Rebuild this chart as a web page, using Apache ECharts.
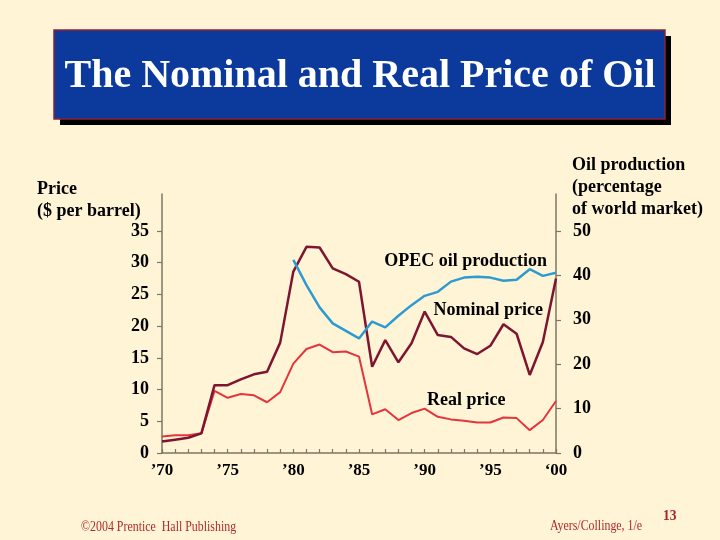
<!DOCTYPE html>
<html>
<head>
<meta charset="utf-8">
<script src="https://cdn.jsdelivr.net/npm/echarts@6/dist/echarts.min.js"></script>
<style>
  html, body { margin: 0; padding: 0; background: #FFF5D6; }
  #chart { width: 720px; height: 540px; }
</style>
</head>
<body>
<div id="chart"></div>
<script>
// data
var years = [1970, 1971, 1972, 1973, 1974, 1975, 1976, 1977, 1978, 1979,
             1980, 1981, 1982, 1983, 1984, 1985, 1986, 1987, 1988, 1989,
             1990, 1991, 1992, 1993, 1994, 1995, 1996, 1997, 1998, 1999, 2000];
var nominalPrice = [1.8, 2.1, 2.4, 3.1, 10.7, 10.7, 11.6, 12.4, 12.8, 17.4,
                    28.6, 32.5, 32.4, 29.1, 28.2, 27.0, 13.6, 17.8, 14.3, 17.3,
                    22.3, 18.6, 18.3, 16.5, 15.6, 16.9, 20.3, 18.8, 12.3, 17.5, 27.5];
var realPrice = [2.6, 2.8, 2.8, 3.1, 9.8, 8.7, 9.3, 9.1, 8.0, 9.6,
                 14.1, 16.4, 17.1, 15.9, 16.0, 15.2, 6.1, 6.9, 5.2, 6.3,
                 7.0, 5.7, 5.3, 5.1, 4.8, 4.8, 5.6, 5.5, 3.6, 5.2, 8.2];
var opecShare = [null, null, null, null, null, null, null, null, null, null,
                 43.5, 37.8, 32.8, 29.2, 27.5, 25.8, 29.6, 28.3, 30.9, 33.3,
                 35.4, 36.3, 38.6, 39.5, 39.7, 39.5, 38.8, 39.0, 41.4, 39.9, 40.6];
var yearTicks = [1970, 1975, 1980, 1985, 1990, 1995, 2000];
var priceTicks = [0, 5, 10, 15, 20, 25, 30, 35];
var shareTicks = [0, 10, 20, 30, 40, 50];

function pairs(vals) {
  return years.map(function (y, i) { return [y, vals[i]]; });
}

var serif = '"Liberation Serif", "DejaVu Serif", serif';
var axisColor = '#7d7666';

var chart = echarts.init(document.getElementById('chart'));
var option = {
  backgroundColor: '#FFF5D6',
  animation: false,
  grid: { left: 162, right: 164, top: 194, bottom: 87 },
  xAxis: {
    type: 'value',
    min: 1970,
    max: 2000,
    interval: 1,
    axisLine: { show: true, onZero: false, lineStyle: { color: axisColor, width: 1.5 } },
    axisTick: { show: true, inside: true, length: 4, lineStyle: { color: axisColor, width: 1.2 } },
    splitLine: { show: false },
    axisLabel: {
      customValues: yearTicks,
      margin: 9,
      color: '#000',
      fontFamily: serif,
      fontWeight: 'bold',
      fontSize: 17,
      formatter: function (v) {
        var s = String(v).slice(2);
        return (v === 2000 ? '\u2018' : '\u2019') + s;
      }
    }
  },
  yAxis: [
    {
      type: 'value',
      position: 'left',
      min: 0,
      max: 35 * 7 / 6,
      axisLine: { show: true, lineStyle: { color: axisColor, width: 1.5 } },
      axisTick: { show: true, length: 5, customValues: priceTicks, lineStyle: { color: axisColor, width: 1.2 } },
      splitLine: { show: false },
      axisLabel: {
        customValues: priceTicks,
        margin: 13,
        color: '#000',
        fontFamily: serif,
        fontWeight: 'bold',
        fontSize: 18
      }
    },
    {
      type: 'value',
      position: 'right',
      min: 0,
      max: 50 * 7 / 6,
      axisLine: { show: true, lineStyle: { color: axisColor, width: 1.5 } },
      axisTick: { show: true, length: 5, customValues: shareTicks, lineStyle: { color: axisColor, width: 1.2 } },
      splitLine: { show: false },
      axisLabel: {
        customValues: shareTicks,
        margin: 17,
        color: '#000',
        fontFamily: serif,
        fontWeight: 'bold',
        fontSize: 18
      }
    }
  ],
  series: [
    {
      name: 'Real price',
      type: 'line',
      yAxisIndex: 0,
      data: pairs(realPrice),
      symbol: 'none',
      lineStyle: { color: '#E2363C', width: 2 }
    },
    {
      name: 'Nominal price',
      type: 'line',
      yAxisIndex: 0,
      data: pairs(nominalPrice),
      symbol: 'none',
      lineStyle: { color: '#7E1530', width: 2.5 }
    },
    {
      name: 'OPEC oil production',
      type: 'line',
      yAxisIndex: 1,
      data: pairs(opecShare),
      symbol: 'none',
      connectNulls: false,
      lineStyle: { color: '#2E9BD0', width: 2.5 }
    }
  ],
  graphic: [
    // title box with shadow
    { type: 'rect', shape: { x: 60, y: 36, width: 611, height: 89 }, style: { fill: '#000' } },
    { type: 'rect', shape: { x: 54, y: 30, width: 611, height: 89 },
      style: { fill: '#0B3A9C', stroke: '#8E2235', lineWidth: 1.5 } },
    { type: 'text', x: 360, y: 77,
      style: { text: 'The Nominal and Real Price of Oil', fill: '#fff', font: 'bold 40px ' + serif,
               textAlign: 'center', textVerticalAlign: 'middle' } },
    // axis titles
    { type: 'text', x: 37, y: 189,
      style: { text: 'Price', fill: '#000', font: 'bold 18px ' + serif, textAlign: 'left', textVerticalAlign: 'middle' } },
    { type: 'text', x: 37, y: 211,
      style: { text: '($ per barrel)', fill: '#000', font: 'bold 18px ' + serif, textAlign: 'left', textVerticalAlign: 'middle' } },
    { type: 'text', x: 572, y: 165,
      style: { text: 'Oil production', fill: '#000', font: 'bold 18px ' + serif, textAlign: 'left', textVerticalAlign: 'middle' } },
    { type: 'text', x: 572, y: 187,
      style: { text: '(percentage', fill: '#000', font: 'bold 18px ' + serif, textAlign: 'left', textVerticalAlign: 'middle' } },
    { type: 'text', x: 572, y: 209,
      style: { text: 'of world market)', fill: '#000', font: 'bold 18px ' + serif, textAlign: 'left', textVerticalAlign: 'middle' } },
    // series labels
    { type: 'text', x: 547, y: 261,
      style: { text: 'OPEC oil production', fill: '#000', font: 'bold 18px ' + serif, textAlign: 'right', textVerticalAlign: 'middle' } },
    { type: 'text', x: 543, y: 310,
      style: { text: 'Nominal price', fill: '#000', font: 'bold 18px ' + serif, textAlign: 'right', textVerticalAlign: 'middle' } },
    { type: 'text', x: 427, y: 400,
      style: { text: 'Real price', fill: '#000', font: 'bold 18px ' + serif, textAlign: 'left', textVerticalAlign: 'middle' } },
    // footer
    { type: 'text', x: 81, y: 527, scaleX: 0.85,
      style: { text: '\u00A92004 Prentice  Hall Publishing', fill: '#B02A2A', font: '14px ' + serif,
               textAlign: 'left', textVerticalAlign: 'middle' } },
    { type: 'text', x: 550, y: 526, scaleX: 0.85,
      style: { text: 'Ayers/Collinge, 1/e', fill: '#B02A2A', font: '14px ' + serif,
               textAlign: 'left', textVerticalAlign: 'middle' } },
    { type: 'text', x: 663, y: 516, scaleX: 0.9,
      style: { text: '13', fill: '#A82222', font: 'bold 15px ' + serif,
               textAlign: 'left', textVerticalAlign: 'middle' } }
  ]
};
chart.setOption(option);
</script>
</body>
</html>
